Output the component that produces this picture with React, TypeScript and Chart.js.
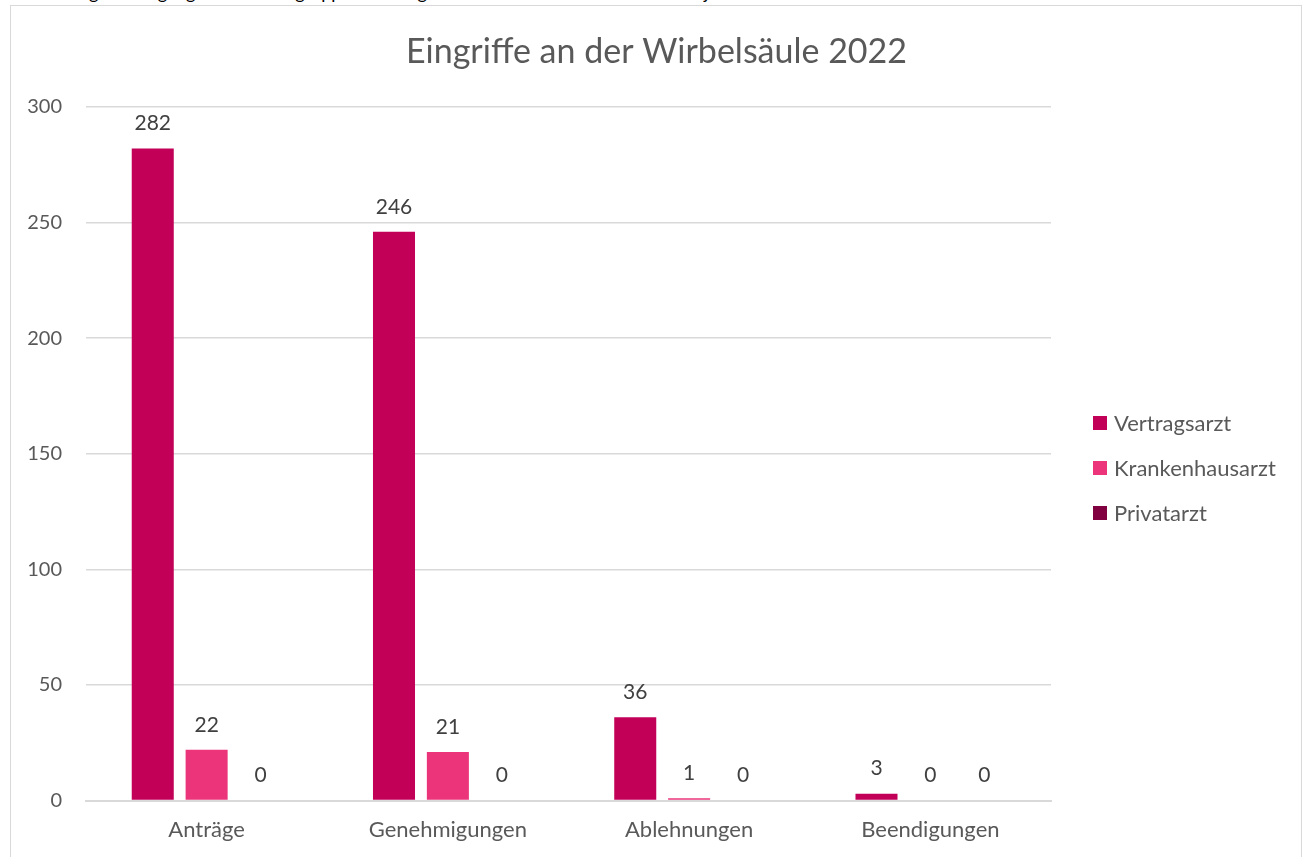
import React, { useEffect, useRef } from "react";
import { Chart, registerables } from "chart.js";

Chart.register(...registerables);

const categories = ["Anträge", "Genehmigungen", "Ablehnungen", "Beendigungen"];
const seriesNames = ["Vertragsarzt", "Krankenhausarzt", "Privatarzt"];
const vertragsarzt = [282, 246, 36, 3];
const krankenhausarzt = [22, 21, 1, 0];
const privatarzt = [0, 0, 0, 0];
const yTicks = [0, 50, 100, 150, 200, 250, 300];
const colors = ["#C20058", "#EB347A", "#800040"];
const titleText = "Eingriffe an der Wirbelsäule 2022";
const captionText =
  "Abbildung 12: Eingänge in den Arztgruppen für Eingriffe an der Wirbelsäule im Berichtsjahr 2022";

const FONT = "Lato, 'Open Sans', sans-serif";

const valueLabels = {
  id: "valueLabels",
  afterDatasetsDraw(chart: any) {
    const ctx = chart.ctx;
    ctx.save();
    ctx.font = `21px ${FONT}`;
    ctx.fillStyle = "#404040";
    ctx.textAlign = "center";
    ctx.textBaseline = "middle";
    chart.data.datasets.forEach((ds: any, i: number) => {
      const meta = chart.getDatasetMeta(i);
      meta.data.forEach((el: any, j: number) => {
        ctx.fillText(String(ds.data[j]), el.x, el.y - 25);
      });
    });
    ctx.restore();
  },
};

const customTitle = {
  id: "customTitle",
  afterDraw(chart: any) {
    const ctx = chart.ctx;
    ctx.save();
    ctx.font = `34px ${FONT}`;
    ctx.fillStyle = "#595959";
    ctx.textAlign = "center";
    ctx.textBaseline = "middle";
    ctx.fillText(titleText, chart.width / 2 + 1, 46);
    ctx.restore();
  },
};

const customLegend = {
  id: "customLegend",
  afterDraw(chart: any) {
    const ctx = chart.ctx;
    const area = chart.chartArea;
    const x0 = area.right + 42;
    const yc = area.top + 361;
    const gap = 45;
    ctx.save();
    ctx.font = `22px ${FONT}`;
    ctx.textBaseline = "middle";
    ctx.textAlign = "left";
    chart.data.datasets.forEach((ds: any, i: number) => {
      const y = yc + (i - 1) * gap;
      ctx.fillStyle = ds.backgroundColor;
      ctx.fillRect(x0, y - 7, 14, 14);
      ctx.fillStyle = "#595959";
      ctx.fillText(ds.label, x0 + 21, y + 1);
    });
    ctx.restore();
  },
};

export default function App() {
  const ref = useRef<HTMLCanvasElement | null>(null);
  useEffect(() => {
    if (!ref.current) return;
    const data = [vertragsarzt, krankenhausarzt, privatarzt];
    const chart = new Chart(ref.current, {
      type: "bar",
      data: {
        labels: categories,
        datasets: seriesNames.map((name, i) => ({
          label: name,
          data: data[i],
          backgroundColor: colors[i],
          borderWidth: 0,
          barPercentage: 0.78,
          categoryPercentage: 0.67,
        })),
      },
      options: {
        animation: false,
        responsive: false,
        devicePixelRatio: 1,
        layout: { padding: { left: 0, right: 249, bottom: 4, top: 101 } },
        plugins: {
          title: { display: false },
          legend: { display: false },
          tooltip: { enabled: false },
        },
        scales: {
          x: {
            grid: { display: false, drawTicks: false },
            border: { color: "#d9d9d9", width: 2 },
            ticks: {
              color: "#595959",
              font: { family: FONT, size: 22 },
              padding: 16,
            },
          },
          y: {
            min: 0,
            max: 300,
            afterBuildTicks: (axis: any) => {
              axis.ticks = yTicks.map((v) => ({ value: v }));
            },
            afterFit: (axis: any) => {
              axis.width = 75;
            },
            grid: { color: "#d9d9d9", lineWidth: 1.5, drawTicks: false },
            border: { display: false },
            ticks: {
              color: "#595959",
              font: { family: FONT, size: 20 },
              padding: 24,
            },
          },
        },
      },
      plugins: [valueLabels, customTitle, customLegend],
    });
    return () => chart.destroy();
  }, []);

  return (
    <div style={{ position: "fixed", left: 0, top: 0, width: 1304, height: 857, overflow: "hidden", background: "#fff" }}>
      <div
        style={{
          position: "absolute",
          left: 18,
          top: -18,
          fontFamily: FONT,
          fontSize: 18,
          lineHeight: "20px",
          color: "#000",
          whiteSpace: "nowrap",
        }}
      >
        {captionText}
      </div>
      <div
        style={{
          position: "absolute",
          left: 10,
          top: 5,
          width: 1292,
          height: 860,
          border: "1.5px solid #d9d9d9",
          background: "#fff",
          boxSizing: "border-box",
        }}
      >
        <canvas ref={ref} width={1289} height={857} style={{ display: "block" }} />
      </div>
    </div>
  );
}
